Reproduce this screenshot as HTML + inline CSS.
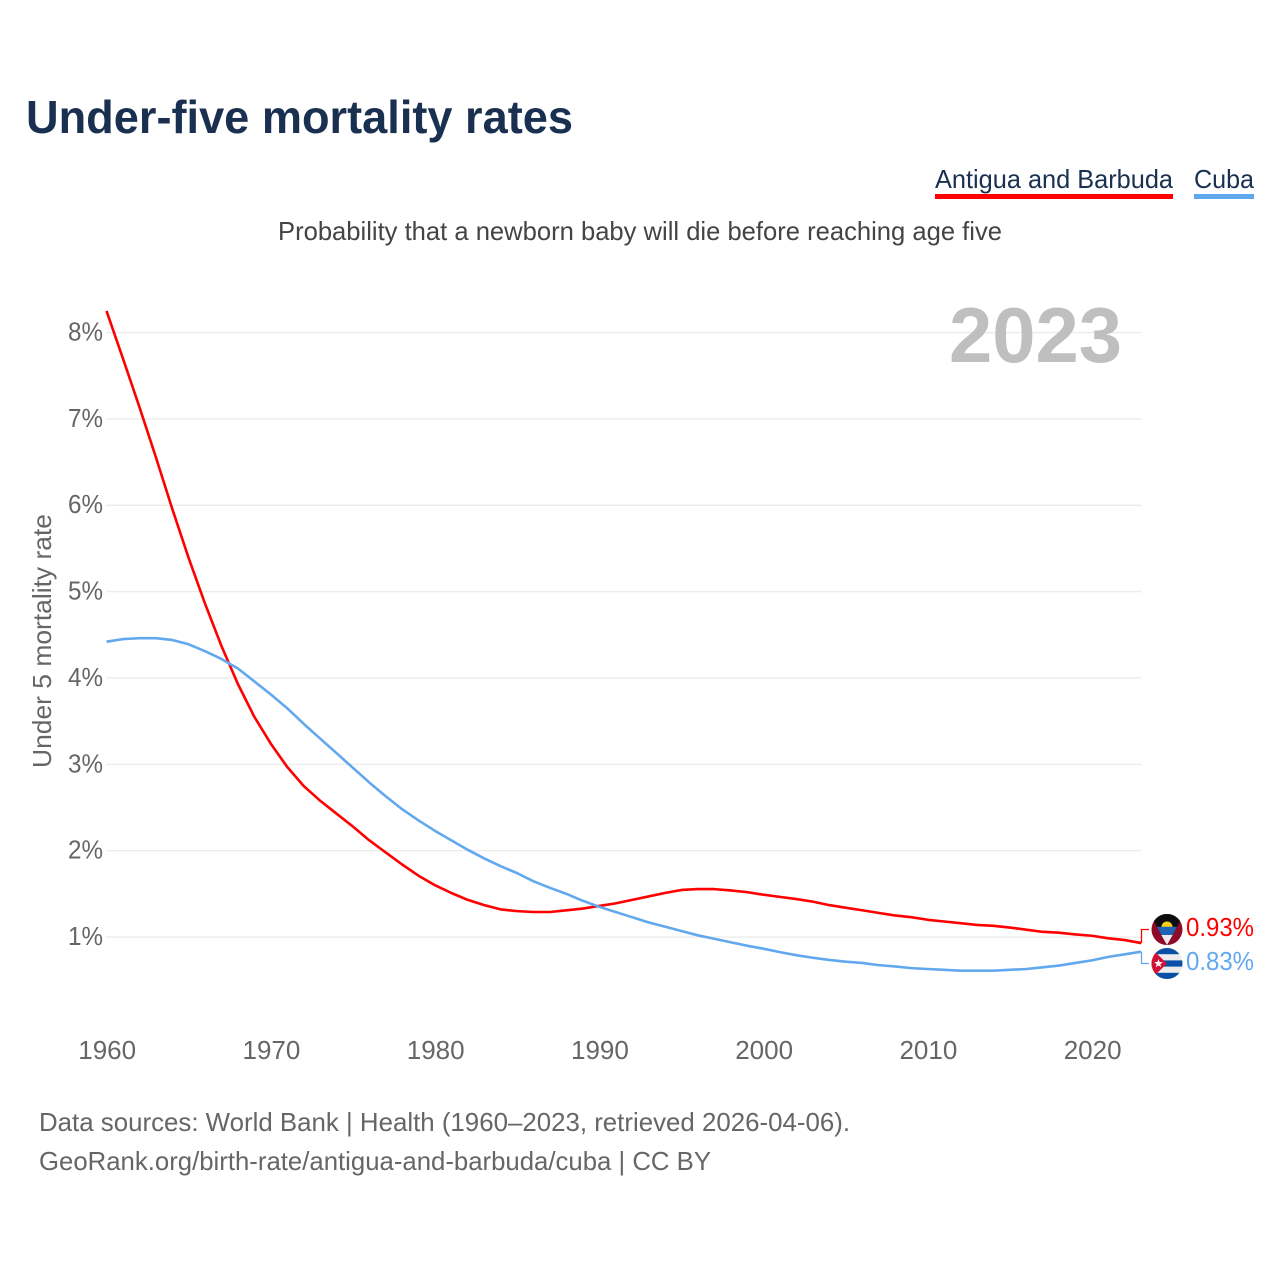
<!DOCTYPE html>
<html lang="en">
<head>
<meta charset="utf-8">
<title>Under-five mortality rates</title>
<style>
html,body{margin:0;padding:0;background:#fff;}
svg{display:block;}
text{font-family:"Liberation Sans",sans-serif;}
</style>
</head>
<body>
<svg id="chart" width="1280" height="1280" viewBox="0 0 1280 1280" xmlns="http://www.w3.org/2000/svg">
  <rect x="0" y="0" width="1280" height="1280" fill="#ffffff"/>
  <text x="26" y="133" font-size="46" font-weight="700" fill="#1a3050" textLength="547" lengthAdjust="spacingAndGlyphs">Under-five mortality rates</text>

  <g>
    <g>
      <text x="935" y="188" font-size="26" fill="#1a3050" textLength="238" lengthAdjust="spacingAndGlyphs">Antigua and Barbuda</text>
      <rect x="935" y="194" width="238" height="5" fill="#ff0000"/>
    </g>
    <g>
      <text x="1194" y="188" font-size="26" fill="#1a3050" textLength="60" lengthAdjust="spacingAndGlyphs">Cuba</text>
      <rect x="1194" y="194" width="60" height="5" fill="#62a8ee"/>
    </g>
  </g>

  <text x="278" y="240" font-size="26" fill="#444444" textLength="724" lengthAdjust="spacingAndGlyphs">Probability that a newborn baby will die before reaching age five</text>

  <g id="grid"></g>
  <text x="949" y="362" font-size="78" font-weight="700" fill="#bfbfbf" textLength="173" lengthAdjust="spacingAndGlyphs">2023</text>
  <g id="yticks"></g>
  <g id="xticks"></g>
  <text transform="translate(51,768) rotate(-90)" x="0" y="0" font-size="26" fill="#666666" textLength="254" lengthAdjust="spacingAndGlyphs">Under 5 mortality rate</text>
  <g id="series"></g>

  <defs>
    <clipPath id="clip-ag"><circle cx="1167" cy="929.5" r="15.5"/></clipPath>
    <clipPath id="clip-cu"><circle cx="1167" cy="963.5" r="15.5"/></clipPath>
  </defs>
  <g clip-path="url(#clip-ag)">
    <rect x="1151" y="914" width="32" height="32" fill="#8f0a26"/>
    <polygon points="1150,914 1184,914 1167,945" fill="#0d0d0d"/>
    <path d="M1161.5 927 A5.5 5.5 0 0 1 1172.5 927 Z" fill="#fbd116"/>
    <polygon points="1157,926.7 1177,926.7 1172.7,935 1161.3,935" fill="#1f63b4"/>
    <polygon points="1161.3,935 1172.7,935 1167,945" fill="#ececec"/>
  </g>
  <g clip-path="url(#clip-cu)">
    <rect x="1151" y="948" width="32" height="32" fill="#ececec"/>
    <rect x="1151" y="948" width="32" height="6.2" fill="#0a4fa6"/>
    <rect x="1151" y="960.4" width="32" height="6.2" fill="#0a4fa6"/>
    <rect x="1151" y="972.8" width="32" height="7.2" fill="#0a4fa6"/>
    <polygon points="1151,948 1151,979 1167,963.5" fill="#d21034"/>
    <polygon points="1158.5,959 1159.6,962 1162.8,962.1 1160.3,964.1 1161.2,967.2 1158.5,965.4 1155.8,967.2 1156.7,964.1 1154.2,962.1 1157.4,962" fill="#ffffff"/>
  </g>

  <text x="1186" y="936" font-size="26" fill="#ff0000" textLength="68" lengthAdjust="spacingAndGlyphs">0.93%</text>
  <text x="1186" y="970" font-size="26" fill="#62a8ee" textLength="68" lengthAdjust="spacingAndGlyphs">0.83%</text>

  <text x="39" y="1131" font-size="26" fill="#666666" textLength="811" lengthAdjust="spacingAndGlyphs">Data sources: World Bank | Health (1960–2023, retrieved 2026-04-06).</text>
  <text x="39" y="1170" font-size="26" fill="#666666" textLength="672" lengthAdjust="spacingAndGlyphs">GeoRank.org/birth-rate/antigua-and-barbuda/cuba | CC BY</text>
</svg>
<script>
const years = [1960,1961,1962,1963,1964,1965,1966,1967,1968,1969,1970,1971,1972,1973,1974,1975,1976,1977,1978,1979,1980,1981,1982,1983,1984,1985,1986,1987,1988,1989,1990,1991,1992,1993,1994,1995,1996,1997,1998,1999,2000,2001,2002,2003,2004,2005,2006,2007,2008,2009,2010,2011,2012,2013,2014,2015,2016,2017,2018,2019,2020,2021,2022,2023];
const antiguaValues = [8.25,7.7,7.14,6.56,5.96,5.39,4.86,4.37,3.93,3.55,3.24,2.97,2.75,2.58,2.43,2.28,2.12,1.98,1.84,1.71,1.60,1.51,1.43,1.37,1.32,1.30,1.29,1.29,1.31,1.33,1.36,1.39,1.43,1.47,1.51,1.545,1.555,1.555,1.54,1.52,1.49,1.465,1.44,1.41,1.37,1.34,1.31,1.28,1.25,1.23,1.20,1.18,1.16,1.14,1.13,1.11,1.085,1.06,1.05,1.03,1.015,0.985,0.965,0.93];
const cubaValues = [4.42,4.45,4.46,4.46,4.44,4.39,4.31,4.22,4.11,3.96,3.81,3.65,3.47,3.30,3.13,2.96,2.79,2.63,2.48,2.35,2.23,2.12,2.01,1.91,1.82,1.74,1.645,1.57,1.50,1.42,1.35,1.29,1.23,1.17,1.12,1.07,1.02,0.98,0.94,0.90,0.865,0.825,0.79,0.76,0.735,0.715,0.70,0.675,0.66,0.64,0.63,0.62,0.61,0.61,0.61,0.62,0.63,0.65,0.67,0.70,0.73,0.77,0.80,0.83];
const yTickValues = [1,2,3,4,5,6,7,8];
const yTickLabels = ['1%','2%','3%','4%','5%','6%','7%','8%'];
const xTickValues = [1960,1970,1980,1990,2000,2010,2020];
const xTickLabels = ['1960','1970','1980','1990','2000','2010','2020'];

const SVG_NS = 'http://www.w3.org/2000/svg';
function xScale(year) { return 106.5 + (year - 1960) * (1141.2 - 106.5) / 63; }
function yScale(v) { return 1023.4 - v * 86.36; }

const grid = document.getElementById('grid');
const yticks = document.getElementById('yticks');
yTickValues.forEach(function (v, i) {
  const line = document.createElementNS(SVG_NS, 'line');
  
  
  line.setAttribute('x1', xScale(1960));
  line.setAttribute('x2', xScale(2023));
  line.setAttribute('y1', yScale(v));
  line.setAttribute('y2', yScale(v));
  line.setAttribute('stroke', '#ececec');
  line.setAttribute('stroke-width', '1.4');
  grid.appendChild(line);

  const label = document.createElementNS(SVG_NS, 'text');
  
  
  label.setAttribute('x', 68);
  label.setAttribute('y', yScale(v) + 8);
  label.setAttribute('font-size', '26');
  label.setAttribute('fill', '#666666');
  label.setAttribute('textLength', '35');
  label.setAttribute('lengthAdjust', 'spacingAndGlyphs');
  label.textContent = yTickLabels[i];
  yticks.appendChild(label);
});

const xticks = document.getElementById('xticks');
xTickValues.forEach(function (year, i) {
  const label = document.createElementNS(SVG_NS, 'text');
  
  
  label.setAttribute('x', xScale(year) + 0.7);
  label.setAttribute('y', 1059);
  label.setAttribute('font-size', '26');
  label.setAttribute('fill', '#666666');
  label.setAttribute('text-anchor', 'middle');
  label.textContent = xTickLabels[i];
  xticks.appendChild(label);
});

function linePoints(values) {
  return values.map(function (v, i) {
    return xScale(years[i]).toFixed(2) + ',' + yScale(v).toFixed(2);
  }).join(' ');
}

const seriesGroup = document.getElementById('series');

const antiguaLine = document.createElementNS(SVG_NS, 'polyline');


antiguaLine.setAttribute('points', linePoints(antiguaValues));
antiguaLine.setAttribute('fill', 'none');
antiguaLine.setAttribute('stroke', '#ff0000');
antiguaLine.setAttribute('stroke-width', '2.6');
antiguaLine.setAttribute('stroke-linejoin', 'round');
seriesGroup.appendChild(antiguaLine);

const cubaLine = document.createElementNS(SVG_NS, 'polyline');


cubaLine.setAttribute('points', linePoints(cubaValues));
cubaLine.setAttribute('fill', 'none');
cubaLine.setAttribute('stroke', '#62a8ee');
cubaLine.setAttribute('stroke-width', '2.6');
cubaLine.setAttribute('stroke-linejoin', 'round');
seriesGroup.appendChild(cubaLine);

const lastIndex = years.length - 1;
const endX = xScale(years[lastIndex]) + 0.3;

const antiguaConnector = document.createElementNS(SVG_NS, 'polyline');


antiguaConnector.setAttribute('points', endX + ',' + yScale(antiguaValues[lastIndex]) + ' ' + endX + ',929.5 1149,929.5');
antiguaConnector.setAttribute('fill', 'none');
antiguaConnector.setAttribute('stroke', '#ff0000');
antiguaConnector.setAttribute('stroke-width', '1.3');
seriesGroup.appendChild(antiguaConnector);

const cubaConnector = document.createElementNS(SVG_NS, 'polyline');


cubaConnector.setAttribute('points', endX + ',' + yScale(cubaValues[lastIndex]) + ' ' + endX + ',963.5 1149,963.5');
cubaConnector.setAttribute('fill', 'none');
cubaConnector.setAttribute('stroke', '#62a8ee');
cubaConnector.setAttribute('stroke-width', '1.3');
seriesGroup.appendChild(cubaConnector);
</script>
</body>
</html>
